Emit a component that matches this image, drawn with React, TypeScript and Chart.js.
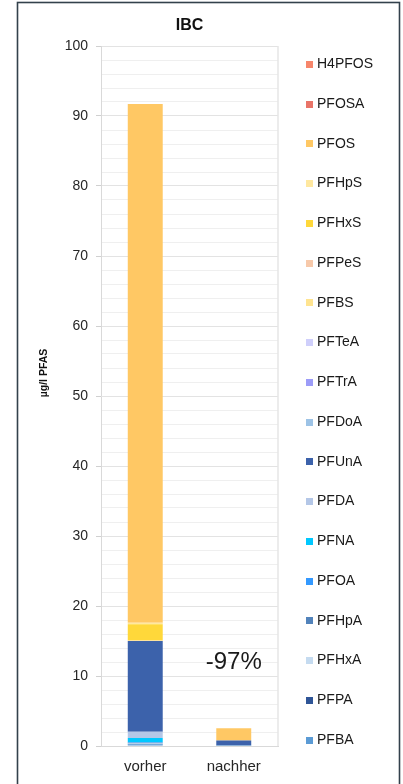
import React, { useEffect, useRef } from 'react';
import { Chart, registerables } from 'chart.js';

Chart.register(...registerables);

const FONT = '"Liberation Sans", Arial, sans-serif';

// Sampling points (x axis)
const categories = ['vorher', 'nachher'];

// Stack order, bottom to top
const seriesNames = [
  'PFBA', 'PFPA', 'PFHxA', 'PFHpA', 'PFOA', 'PFNA', 'PFDA', 'PFUnA', 'PFDoA',
  'PFTrA', 'PFTeA', 'PFBS', 'PFPeS', 'PFHxS', 'PFHpS', 'PFOS', 'PFOSA', 'H4PFOS',
];

const seriesColors = [
  '#5B9BD5', '#2F5597', '#C5DBF0', '#5283BB', '#3399FF', '#00C8FF', '#B4C7E7', '#3C62AB', '#9DC3E6',
  '#9C9CF8', '#CFCFFB', '#FFE490', '#F7C9AA', '#FFD83A', '#FFE8A0', '#FFC864', '#E97468', '#F7866B',
];

// µg/l per compound, same order as seriesNames
const vorherValues = [
  0.25, 0.05, 0.05, 0.12, 0.05, 0.62, 0.9, 12.96, 0,
  0, 0, 0.05, 0.02, 2.33, 0.22, 74.08, 0, 0,
];
const nachherValues = [
  0.05, 0, 0, 0.05, 0, 0, 0.05, 0.65, 0,
  0, 0, 0, 0, 0, 0, 1.73, 0, 0,
];

const yMin = 0;
const yMax = 100;
const yGridStep = 2;
const yLabelStep = 10;

const chartTitle = 'IBC';
const yAxisTitle = 'µg/l PFAS';
// height (in µg/l) where the reduction label sits above the second bar
const reductionLabelAt = 12;

const sum = (a: number[]) => a.reduce((s, v) => s + v, 0);
const reductionText = `${Math.round((sum(nachherValues) / sum(vorherValues) - 1) * 100)}%`;

const decorPlugin = {
  id: 'decor',
  beforeDraw(chart: any) {
    const { ctx, width, height } = chart;
    ctx.save();
    ctx.fillStyle = '#ffffff';
    ctx.fillRect(0, 0, width, height);
    ctx.strokeStyle = '#33414c';
    ctx.lineWidth = 1.6;
    ctx.strokeRect(17.5, 2.5, 382, 800);
    ctx.restore();
  },
  beforeDatasetsDraw(chart: any) {
    const { ctx, chartArea } = chart;
    ctx.save();
    ctx.strokeStyle = '#e6e6e6';
    ctx.lineWidth = 1.5;
    ctx.beginPath();
    ctx.moveTo(chartArea.right, chartArea.top);
    ctx.lineTo(chartArea.right, chartArea.bottom);
    ctx.stroke();
    ctx.restore();
  },
  afterDraw(chart: any) {
    const { ctx, chartArea, scales } = chart;
    ctx.save();

    // chart title, centred over the plot area
    ctx.fillStyle = '#111111';
    ctx.font = `bold 16px ${FONT}`;
    ctx.textAlign = 'center';
    ctx.textBaseline = 'middle';
    ctx.fillText(chartTitle, (chartArea.left + chartArea.right) / 2, 26);

    // y axis title
    ctx.save();
    ctx.translate(44, 373);
    ctx.rotate(-Math.PI / 2);
    ctx.font = `bold 10.5px ${FONT}`;
    ctx.fillText(yAxisTitle, 0, 0);
    ctx.restore();

    // reduction label
    ctx.font = `24px ${FONT}`;
    ctx.fillStyle = '#1a1a1a';
    ctx.fillText(
      reductionText,
      scales.x.getPixelForValue(1),
      scales.y.getPixelForValue(reductionLabelAt),
    );

    // legend, listed top of stack first
    const n = seriesNames.length;
    const first = chartArea.top + 18.3;
    const last = chartArea.bottom - 6;
    const step = (last - first) / (n - 1);
    ctx.font = `14px ${FONT}`;
    ctx.textAlign = 'left';
    for (let i = 0; i < n; i++) {
      const idx = n - 1 - i;
      const y = first + i * step;
      ctx.fillStyle = seriesColors[idx];
      ctx.fillRect(306, Math.round(y - 3.5), 7, 7);
      ctx.fillStyle = '#1a1a1a';
      ctx.fillText(seriesNames[idx], 317, y);
    }
    ctx.restore();
  },
};

export default function App() {
  const canvasRef = useRef<HTMLCanvasElement | null>(null);

  useEffect(() => {
    const canvas = canvasRef.current;
    if (!canvas) return;

    const datasets = seriesNames.map((name, i) => ({
      label: name,
      data: [vorherValues[i], nachherValues[i]],
      backgroundColor: seriesColors[i],
      borderWidth: 0,
      barPercentage: 1,
      categoryPercentage: 0.395,
    }));

    const chart = new Chart(canvas, {
      type: 'bar',
      data: { labels: categories, datasets },
      options: {
        responsive: false,
        animation: false,
        devicePixelRatio: 1,
        layout: { padding: { left: 41, right: 125, top: 46, bottom: 8 } },
        plugins: {
          legend: { display: false },
          title: { display: false },
          tooltip: { enabled: false },
        },
        scales: {
          x: {
            stacked: true,
            grid: { display: false, drawTicks: false },
            border: { display: true, color: '#d9d9d9', width: 1 },
            ticks: {
              color: '#262626',
              font: { family: FONT, size: 15 },
              padding: 12,
              maxRotation: 0,
            },
            afterFit: (scale: any) => {
              scale.height = 30;
            },
          },
          y: {
            stacked: true,
            min: yMin,
            max: yMax,
            grid: {
              color: (c: any) =>
                c.tick && c.tick.value % yLabelStep === 0 ? '#e3e3e3' : '#efefef',
              lineWidth: 1,
              tickLength: 5,
              tickColor: (c: any) =>
                c.tick && c.tick.value % yLabelStep === 0 ? '#d0d0d0' : 'rgba(0,0,0,0)',
            },
            border: { display: true, color: '#d9d9d9', width: 1 },
            ticks: {
              stepSize: yGridStep,
              autoSkip: false,
              color: '#262626',
              font: { family: FONT, size: 14 },
              padding: 8,
              callback: (v: any) => (Number(v) % yLabelStep === 0 ? String(v) : ''),
            },
            afterFit: (scale: any) => {
              scale.width = 60;
            },
          },
        },
      },
      plugins: [decorPlugin],
    });

    return () => chart.destroy();
  }, []);

  return (
    <canvas
      ref={canvasRef}
      width={403}
      height={784}
      style={{ position: 'absolute', left: 0, top: 0, width: 403, height: 784 }}
    />
  );
}
